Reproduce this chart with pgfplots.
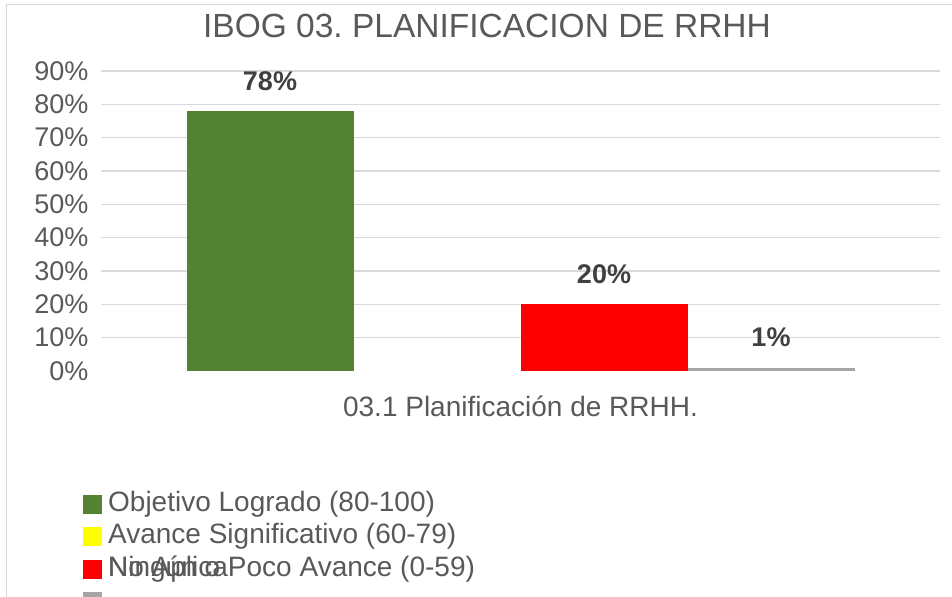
\documentclass[border=0pt]{standalone}
\usepackage{pgfplots}
\pgfplotsset{compat=1.18}
\usepackage{fontspec}
\setmainfont{Liberation Sans}
\definecolor{cgreen}{HTML}{548235}
\definecolor{cyellow}{HTML}{FFFF00}
\definecolor{cred}{HTML}{FF0000}
\definecolor{cgray}{HTML}{A5A5A5}
\definecolor{ctext}{HTML}{595959}
\definecolor{clabel}{HTML}{404040}
\definecolor{cgrid}{HTML}{D9D9D9}
\newcommand{\fs}{\fontsize{27bp}{32bp}\selectfont}
\newcommand{\fl}{\fontsize{28bp}{33bp}\selectfont}
\frenchspacing

\begin{document}
\begin{tikzpicture}
\path[use as bounding box] (0,0) rectangle (952bp,597bp);
\draw[cgrid, line width=1bp] (6bp,-40bp) rectangle (990bp,592bp);
\node[text=ctext, font=\fontsize{33.5bp}{40bp}\selectfont] at (487bp,571bp) {IBOG 03. PLANIFICACION DE RRHH};
\begin{axis}[
  at={(101bp,226bp)}, anchor=south west,
  scale only axis, width=839bp, height=300bp,
  xmin=-0.5, xmax=0.5, ymin=0, ymax=90,
  axis line style={draw=none},
  major tick length=0pt,
  ybar=0pt, bar width=167bp,
  ytick={10,20,...,90},
  extra y ticks={0}, extra y tick style={grid=none},
  ymajorgrids, grid style={cgrid, line width=1.3bp},
  /pgf/number format/assume math mode=true,
  yticklabel={\pgfmathprintnumber{\tick}\%},
  yticklabel style={font=\fs, text=ctext, xshift=-9bp},
  xtick={0}, xticklabels={03.1 Planificación de RRHH.},
  xticklabel style={font=\fl, text=ctext, anchor=center, yshift=-35bp},
  every node near coord/.append style={font=\bfseries\fs, text=clabel, anchor=center, yshift=30bp},
  lbl/.style={nodes near coords={\pgfmathprintnumber{\pgfplotspointmeta}\%}},
  legend image code/.code={\fill[#1] (0bp,-9.5bp) rectangle (19bp,9.5bp);},
  legend cell align=left,
  legend style={at={(axis description cs:-0.0215,-0.40)}, anchor=north west,
    draw=none, fill=none, font=\fl, text=ctext, inner sep=0pt,
    row sep=6.5bp, column sep=6bp,
    nodes={inner sep=0pt, text height=20bp, text depth=6bp}},
]
\addplot[fill=cgreen, draw=none, lbl] coordinates {(0,78)};
\addplot[fill=cyellow, draw=none] coordinates {(0,0)};
\addplot[fill=cred, draw=none, lbl] coordinates {(0,20)};
\addplot[fill=cgray, draw=none, lbl] coordinates {(0,1)};
\legend{Objetivo Logrado (80-100), Avance Significativo (60-79), {\rlap{No Aplica}Ningún o Poco Avance (0-59)}, {\phantom{X}}}
\end{axis}
\end{tikzpicture}
\end{document}
